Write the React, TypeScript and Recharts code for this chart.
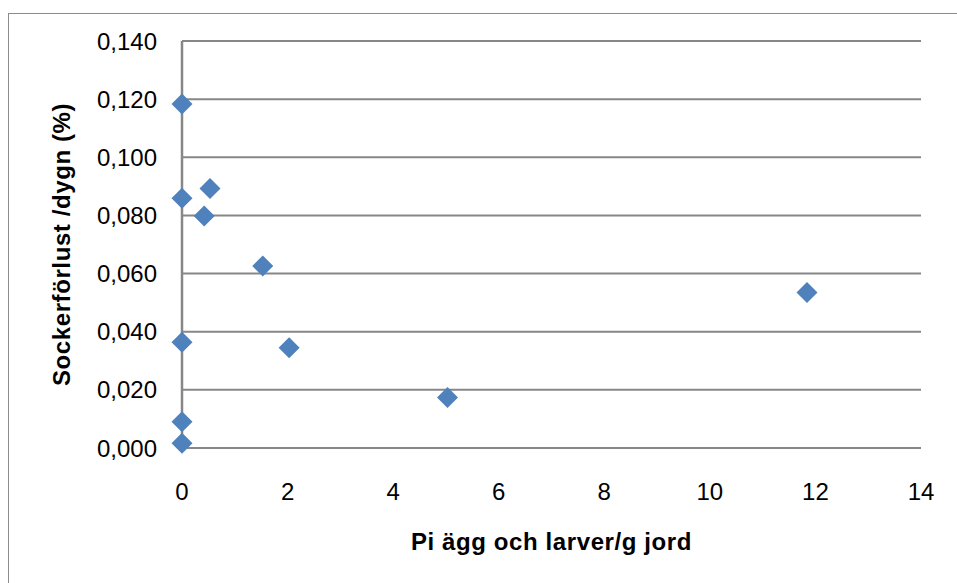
import { ScatterChart, Scatter, XAxis, YAxis, CartesianGrid } from 'recharts';

// Pi eggs and larvae per g soil vs sugar loss per day
const piValues = [0, 0, 0.53, 0.42, 1.53, 0, 2.03, 5.03, 11.84, 0, 0];
const lossValues = [0.1183, 0.0859, 0.0893, 0.0798, 0.0626, 0.0364, 0.0345, 0.0174, 0.0535, 0.009, 0.0016];

const xTicks = [0, 2, 4, 6, 8, 10, 12, 14];
const yTicks = [0, 0.02, 0.04, 0.06, 0.08, 0.1, 0.12, 0.14];

const xTitle = 'Pi ägg och larver/g  jord';
const yTitle = 'Sockerförlust /dygn (%)';

const points = piValues.map((pi, i) => ({ pi, loss: lossValues[i] }));

const GRID = '#878787';
const MARKER = '#4F81BD';
const FONT = '"Liberation Sans", Arial, sans-serif';

const Diamond = (props: any) => {
  const { cx, cy } = props;
  const r = 10.5;
  return (
    <polygon
      points={`${cx},${cy - r} ${cx + r},${cy} ${cx},${cy + r} ${cx - r},${cy}`}
      fill={MARKER}
    />
  );
};

const App = () => {
  return (
    <div style={{ position: 'absolute', left: 0, top: 0, width: 957, height: 583, overflow: 'hidden', background: '#fff' }}>
      <div
        style={{
          position: 'absolute',
          left: 8,
          top: 13,
          width: 970,
          height: 600,
          border: '1.5px solid #8c8c8c',
          boxSizing: 'border-box',
        }}
      />
      <div style={{ position: 'absolute', left: 0, top: 0 }}>
        <ScatterChart
          width={957}
          height={583}
          margin={{ top: 41, right: 36, bottom: 25, left: 52 }}
          style={{ fontFamily: FONT }}
        >
          <CartesianGrid vertical={false} stroke={GRID} strokeWidth={2} />
          <XAxis
            type="number"
            dataKey="pi"
            domain={[0, 14]}
            ticks={xTicks}
            interval={0}
            height={110}
            tickLine={false}
            tickSize={0}
            tickMargin={35}
            axisLine={{ stroke: GRID, strokeWidth: 2 }}
            tick={{ fill: '#000', fontSize: 24, fontFamily: FONT }}
            label={{
              value: xTitle,
              position: 'insideBottom',
              offset: 8,
              style: { fill: '#000', fontSize: 24, fontWeight: 'bold', fontFamily: FONT, letterSpacing: 0.6 },
            }}
          />
          <YAxis
            type="number"
            dataKey="loss"
            domain={[0, 0.14]}
            ticks={yTicks}
            interval={0}
            width={130}
            tickLine={false}
            tickSize={0}
            tickMargin={25}
            axisLine={{ stroke: GRID, strokeWidth: 2.5 }}
            tickFormatter={(v: number) => v.toFixed(3).replace('.', ',')}
            tick={{ fill: '#000', fontSize: 24, fontFamily: FONT }}
            label={{
              value: yTitle,
              angle: -90,
              position: 'insideLeft',
              offset: 9,
              style: { textAnchor: 'middle', fill: '#000', fontSize: 24, fontWeight: 'bold', fontFamily: FONT, letterSpacing: 0.6 },
            }}
          />
          <Scatter data={points} shape={<Diamond />} isAnimationActive={false} />
        </ScatterChart>
      </div>
    </div>
  );
};

export default App;
